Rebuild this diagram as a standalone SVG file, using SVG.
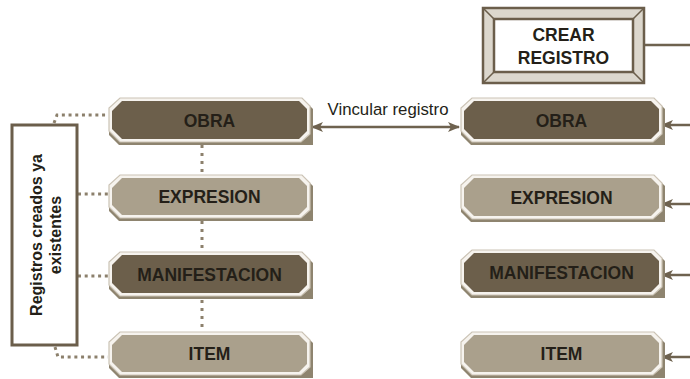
<svg xmlns="http://www.w3.org/2000/svg" width="690" height="379" viewBox="0 0 690 379">
<style>
.shadow{fill:#8e846f}
.halo{fill:#f6f3ee;stroke:#cbc3b5;stroke-width:1.2}
.dark{fill:#6c5f4b}
.light{fill:#aaa08c}
.lbl{font-family:"Liberation Sans",Arial,sans-serif;font-weight:bold;font-size:17.5px;fill:#241f18;text-anchor:middle}
.dot{fill:none;stroke:#8c806c;stroke-width:3;stroke-dasharray:3 3.7}
.vdot{fill:none;stroke:#8c806c;stroke-width:3;stroke-dasharray:3 5}
.conn{fill:none;stroke:#6e624f;stroke-width:2.5}
</style>
<defs>
<marker id="ah" markerWidth="12" markerHeight="10" refX="11" refY="5" orient="auto-start-reverse" markerUnits="userSpaceOnUse">
<path d="M0,0 L12,5 L0,10 L3,5 z" fill="#6e624f"/>
</marker>
</defs>
<rect width="690" height="379" fill="#ffffff"/>

<g id="connectors">
<path class="dot" d="M54,123 L57,115 L108,115"/>
<path class="dot" d="M78,194 L108,194"/>
<path class="dot" d="M78,276 L108,276"/>
<path class="dot" d="M55,347 L58,357 L108,357"/>
<path class="vdot" d="M202,145 L202,176"/>
<path class="vdot" d="M202,221 L202,252"/>
<path class="vdot" d="M202,300 L202,332"/>
<path class="conn" d="M312,127 L459,127" marker-start="url(#ah)" marker-end="url(#ah)"/>
<path class="conn" d="M690,125 L662,125" marker-end="url(#ah)"/>
<path class="conn" d="M690,204 L662,204" marker-end="url(#ah)"/>
<path class="conn" d="M690,275 L662,275" marker-end="url(#ah)"/>
<path class="conn" d="M690,357 L662,357" marker-end="url(#ah)"/>
<path class="conn" d="M645,45 L690,45"/>
<text x="388" y="115" font-family="Liberation Sans,Arial,sans-serif" font-size="16.8" fill="#241f18" text-anchor="middle">Vincular registro</text>
</g>

<g id="registros">
<rect x="12" y="125" width="65" height="220" fill="#ffffff" stroke="#6b5e4b" stroke-width="3"/>
<text transform="translate(42,235) rotate(-90)" class="lbl" style="font-size:16px">Registros creados ya</text>
<text transform="translate(61,235) rotate(-90)" class="lbl" style="font-size:16px">existentes</text>
</g>

<g id="crear">
<rect x="483" y="8" width="161" height="75" fill="#dcd7cd" stroke="#6b5e4b" stroke-width="2.5"/>
<rect x="494" y="19" width="139" height="53" fill="#ffffff" stroke="#6b5e4b" stroke-width="2.5"/>
<path d="M483,8 L494,19 M644,8 L633,19 M483,83 L494,72 M644,83 L633,72" stroke="#6b5e4b" stroke-width="1.5"/>
<text x="563.5" y="41" class="lbl">CREAR</text>
<text x="563.5" y="64" class="lbl">REGISTRO</text>
</g>

<g id="obra-l">
<polygon class="shadow" points="119,101 305,101 313,109 313,145 305,145 119,145 109,135 109,109"/>
<polygon class="halo" points="120,98 302,98 310,106 310,134 301,142 120,142 109,131 109,108"/>
<polygon class="dark" points="122,101 299,101 307,109 307,131 299,139 122,139 112,129 112,111"/>
<text x="209.5" y="126.5" class="lbl">OBRA</text>
</g>
<g id="expresion-l">
<polygon class="shadow" points="119,178 305,178 313,186 313,221 305,221 119,221 109,211 109,186"/>
<polygon class="halo" points="120,175 302,175 310,183 310,210 301,218 120,218 109,207 109,185"/>
<polygon class="light" points="122,178 299,178 307,186 307,207 299,215 122,215 112,205 112,188"/>
<text x="209.5" y="203" class="lbl">EXPRESION</text>
</g>
<g id="manifestacion-l">
<polygon class="shadow" points="119,255 305,255 313,263 313,299 305,299 119,299 109,289 109,263"/>
<polygon class="halo" points="120,252 302,252 310,260 310,288 301,296 120,296 109,285 109,262"/>
<polygon class="dark" points="122,255 299,255 307,263 307,285 299,293 122,293 112,283 112,265"/>
<text x="209.5" y="280.5" class="lbl">MANIFESTACION</text>
</g>
<g id="item-l">
<polygon class="shadow" points="119,335 305,335 313,343 313,378 305,378 119,378 109,368 109,343"/>
<polygon class="halo" points="120,332 302,332 310,340 310,367 301,375 120,375 109,364 109,342"/>
<polygon class="light" points="122,335 299,335 307,343 307,364 299,372 122,372 112,362 112,345"/>
<text x="209.5" y="360" class="lbl">ITEM</text>
</g>

<g id="obra-r">
<polygon class="shadow" points="471,101 657,101 665,109 665,145 657,145 471,145 461,135 461,109"/>
<polygon class="halo" points="472,98 654,98 662,106 662,134 653,142 472,142 461,131 461,108"/>
<polygon class="dark" points="474,101 651,101 659,109 659,131 651,139 474,139 464,129 464,111"/>
<text x="561.5" y="126.5" class="lbl">OBRA</text>
</g>
<g id="expresion-r">
<polygon class="shadow" points="471,178 657,178 665,186 665,222 657,222 471,222 461,212 461,186"/>
<polygon class="halo" points="472,175 654,175 662,183 662,211 653,219 472,219 461,208 461,185"/>
<polygon class="light" points="474,178 651,178 659,186 659,208 651,216 474,216 464,206 464,188"/>
<text x="561.5" y="203.5" class="lbl">EXPRESION</text>
</g>
<g id="manifestacion-r">
<polygon class="shadow" points="471,253 657,253 665,261 665,298 657,298 471,298 461,288 461,261"/>
<polygon class="halo" points="472,250 654,250 662,258 662,287 653,295 472,295 461,284 461,260"/>
<polygon class="dark" points="474,253 651,253 659,261 659,284 651,292 474,292 464,282 464,263"/>
<text x="561.5" y="279" class="lbl">MANIFESTACION</text>
</g>
<g id="item-r">
<polygon class="shadow" points="471,335 657,335 665,343 665,378 657,378 471,378 461,368 461,343"/>
<polygon class="halo" points="472,332 654,332 662,340 662,367 653,375 472,375 461,364 461,342"/>
<polygon class="light" points="474,335 651,335 659,343 659,364 651,372 474,372 464,362 464,345"/>
<text x="561.5" y="360" class="lbl">ITEM</text>
</g>
</svg>
